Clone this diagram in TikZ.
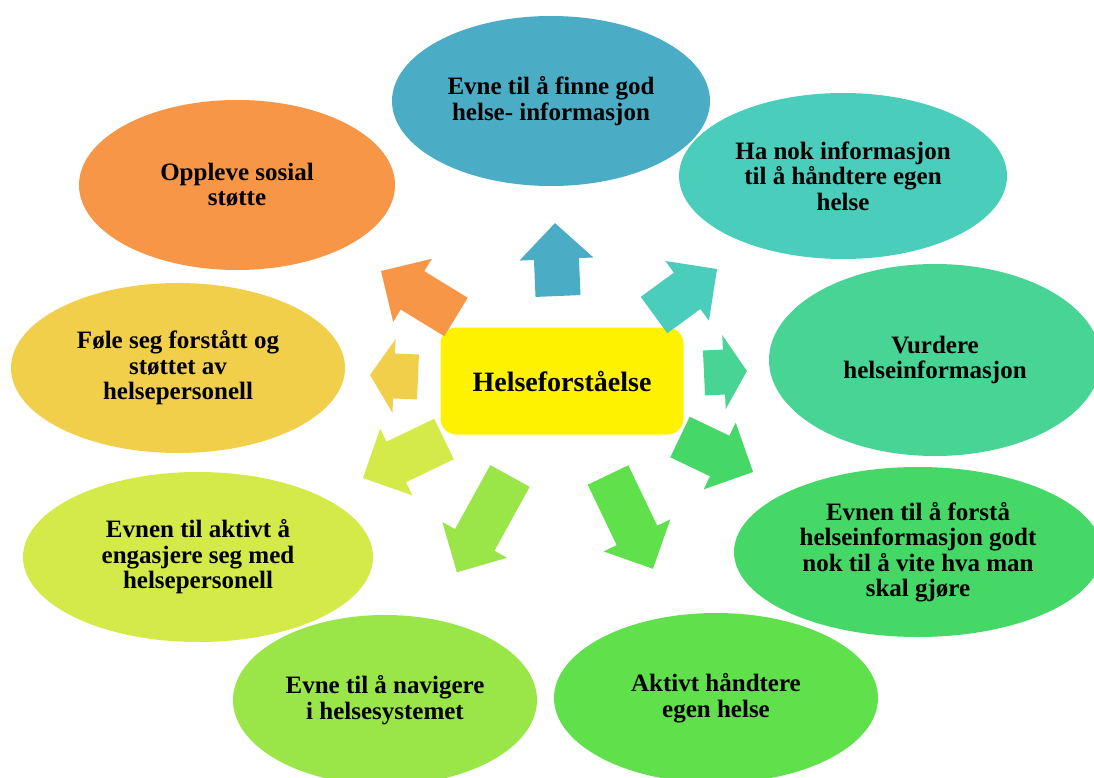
\documentclass[tikz,border=0pt]{standalone}
\usepackage{fontspec}
\setmainfont{Liberation Serif}
\usetikzlibrary{shapes.geometric}
\definecolor{cTeal}{HTML}{4BACC6}
\definecolor{cTurq}{HTML}{4ACDBB}
\definecolor{cVurd}{HTML}{48D494}
\definecolor{cForst}{HTML}{46D866}
\definecolor{cAktiv}{HTML}{60E04A}
\definecolor{cNavig}{HTML}{9AE649}
\definecolor{cEngas}{HTML}{D4EA49}
\definecolor{cFole}{HTML}{F2CF4A}
\definecolor{cOrange}{HTML}{F79646}
\tikzset{
  bubble/.style={ellipse, inner sep=0pt, outer sep=0pt, align=center,
    font=\bfseries\fontsize{25}{25.5}\selectfont, text=black},
  corebox/.style={rectangle, rounded corners=16pt, fill=yellow, inner sep=0pt,
    minimum width=243pt, minimum height=107pt, font=\bfseries\fontsize{28}{30}\selectfont},
}
% base x, base y, angle, length, head length, colour
\newcommand\blockarrow[6]{%
  \begin{scope}[shift={(#1,#2)}, rotate=#3]
    \fill[#6] (0,-22.5) -- ({#4-#5},-22.5) -- ({#4-#5},-37) -- (#4,0)
      -- ({#4-#5},37) -- ({#4-#5},22.5) -- (0,22.5) -- cycle;
  \end{scope}}
\begin{document}
\begin{tikzpicture}[x=1pt,y=-1pt]
\useasboundingbox (0,0) rectangle (1094,778);
\fill[white] (0,0) rectangle (1094,778);
% ellipses
\node[bubble, fill=cOrange, minimum width=316pt, minimum height=170pt] (e9) at (237,185) {Oppleve sosial\\støtte};
\node[bubble, fill=cTeal, minimum width=318pt, minimum height=170pt] (e1) at (551,101) {Evne til å finne god\\helse- informasjon};
\node[bubble, fill=cTurq, minimum width=328pt, minimum height=166pt] (e2) at (843,176) {Ha nok informasjon\\til å håndtere egen\\helse};
\node[bubble, fill=cVurd, minimum width=332pt, minimum height=192pt] (e3) at (935,360) {Vurdere\\helseinformasjon};
\node[bubble, fill=cForst, minimum width=368pt, minimum height=170pt] (e4) at (918,552) {Evnen til å forstå\\helseinformasjon godt\\nok til å vite hva man\\skal gjøre};
\node[bubble, fill=cAktiv, minimum width=324pt, minimum height=170pt] (e5) at (716,698) {Aktivt håndtere\\egen helse};
\node[bubble, fill=cEngas, minimum width=350pt, minimum height=170pt] (e7) at (198,557) {Evnen til aktivt å\\engasjere seg med\\helsepersonell};
\node[bubble, fill=cNavig, minimum width=304pt, minimum height=170pt] (e6) at (385,700) {Evne til å navigere\\i helsesystemet};
\node[bubble, fill=cFole, minimum width=334pt, minimum height=170pt] (e8) at (178,368) {Føle seg forstått og\\støttet av\\helsepersonell};
% centre
\node[corebox] (hf) at (562,381) {Helseforståelse};
% block arrows
\blockarrow{558}{296}{92.4}{73}{36}{cTeal}
\blockarrow{654}{315}{36.1}{78}{37}{cTurq}
\blockarrow{704}{373}{2.7}{43}{23}{cVurd}
\blockarrow{680}{437}{-25.6}{81}{37}{cForst}
\blockarrow{608}{475}{-64.4}{104}{37}{cAktiv}
\blockarrow{510}{476}{-118.9}{110}{37}{cNavig}
\blockarrow{444}{439}{-154.3}{90}{37}{cEngas}
\blockarrow{418}{377}{177.6}{48}{24}{cFole}
\blockarrow{456}{317}{148.5}{88}{37}{cOrange}
\end{tikzpicture}
\end{document}
